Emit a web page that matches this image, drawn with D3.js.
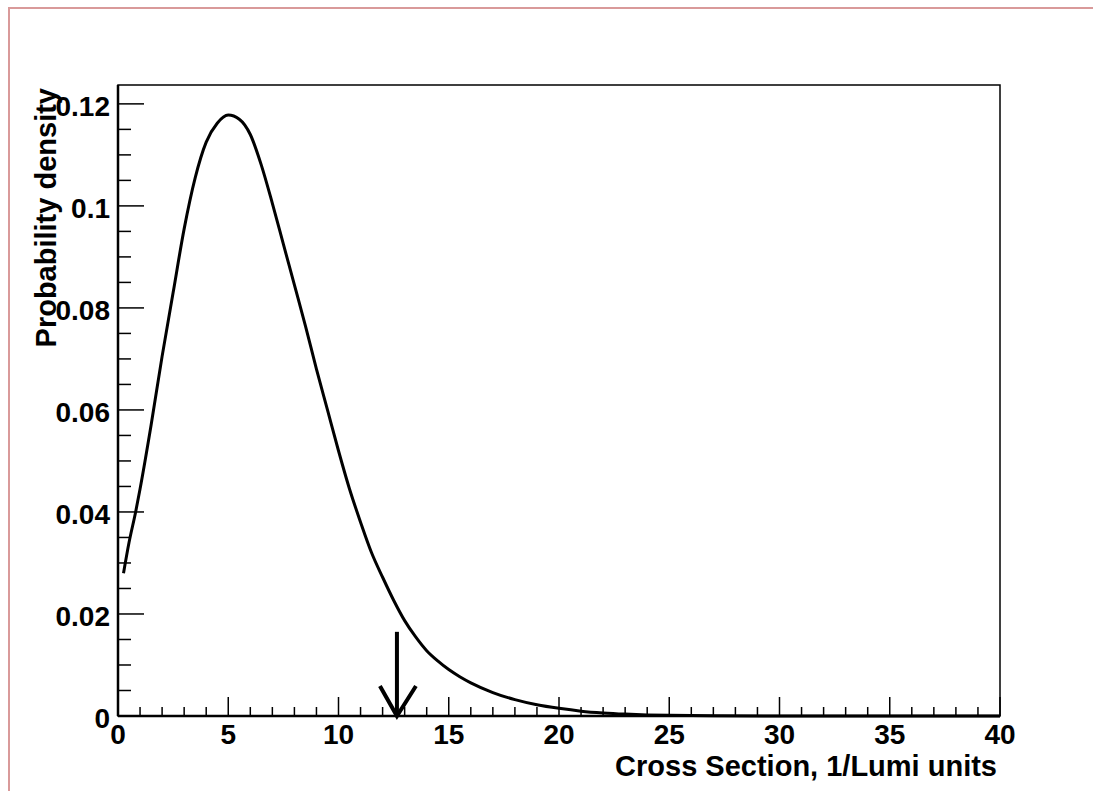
<!DOCTYPE html>
<html><head><meta charset="utf-8">
<script src="https://cdn.jsdelivr.net/npm/d3@7"></script>
<style>body{margin:0;background:#fff}svg{display:block}text{font-family:"Liberation Sans",Arial,sans-serif;font-weight:bold}</style>
</head><body>
<svg id="c" width="1093" height="791"></svg>
<script>
const xVals = [0.25,0.5,0.8,1.0,1.5,2.0,2.5,3.0,3.5,4.0,4.5,5.0,5.5,6.0,6.5,7.0,7.5,8.0,8.5,9.0,9.5,10.0,10.5,11.0,11.5,12.0,12.5,13.0,13.5,14.0,14.5,15.0,15.5,16.0,17.0,18.0,19.0,20.0,21.0,22.0,23.0,24.0,25.0,27.0,30.0,35.0,40.0];
const density = [0.028,0.034,0.040,0.0445,0.057,0.0705,0.083,0.0955,0.1055,0.1125,0.1162,0.1178,0.1170,0.1140,0.1080,0.1005,0.0925,0.0845,0.0765,0.0680,0.0600,0.0520,0.0445,0.0380,0.0320,0.0272,0.0227,0.0187,0.0155,0.0128,0.0108,0.0091,0.0077,0.0065,0.0046,0.0032,0.0022,0.0015,0.00095,0.0006,0.00037,0.00022,0.00013,0.00004,0.00001,0,0];
const xTicks = [0,5,10,15,20,25,30,35,40];
const yTicks = [0,0.02,0.04,0.06,0.08,0.1,0.12];
const yTickLabels = ["0","0.02","0.04","0.06","0.08","0.1","0.12"];
const xTitle = "Cross Section, 1/Lumi units";
const yTitle = "Probability density";
const limitX = 12.65, limitTop = 0.0165;

const svg = d3.select("#c");
const L=118,R=1000,T=85,B=716;
const x = d3.scaleLinear().domain([0,40]).range([L,R]);
const y = d3.scaleLinear().domain([0,0.1237]).range([B,T]);

// canvas border
svg.append("path").attr("d","M9,791V8H1093").attr("fill","none").attr("stroke","#d99a9a").attr("stroke-width",2);

// frame
svg.append("rect").attr("x",L).attr("y",T).attr("width",R-L).attr("height",B-T).attr("fill","none").attr("stroke","#000").attr("stroke-width",1.5);

// x axis ticks
const xMinor = d3.range(0,41,1);
svg.append("g").selectAll("line").data(xMinor).join("line")
  .attr("x1",d=>x(d)).attr("x2",d=>x(d)).attr("y1",B).attr("y2",d=>d%5===0?B-19:B-9)
  .attr("stroke","#000").attr("stroke-width",1.5);
svg.append("line").attr("x1",L).attr("x2",R).attr("y1",B).attr("y2",B).attr("stroke","#000").attr("stroke-width",2.5);
svg.append("g").selectAll("text").data(xTicks).join("text")
  .attr("x",d=>x(d)).attr("y",B+28).attr("text-anchor","middle").attr("font-size",28).text(d=>d);

// y axis ticks
const yMinor = d3.range(0,25).map(i=>i*0.005);
svg.append("g").selectAll("line").data(yMinor).join("line")
  .attr("x1",L).attr("x2",(d,i)=>i%4===0?L+26:L+13).attr("y1",d=>y(d)).attr("y2",d=>y(d))
  .attr("stroke","#000").attr("stroke-width",1.5);
svg.append("line").attr("x1",L).attr("x2",L).attr("y1",T).attr("y2",B).attr("stroke","#000").attr("stroke-width",2.5);
svg.append("g").selectAll("text").data(yTicks).join("text")
  .attr("x",110).attr("y",d=>y(d)+12).attr("text-anchor","end").attr("font-size",28).text((d,i)=>yTickLabels[i]);

// titles
svg.append("text").attr("x",997).attr("y",776).attr("text-anchor","end").attr("font-size",29).text(xTitle);
svg.append("text").attr("transform","translate(56,88) rotate(-90)").attr("text-anchor","end").attr("font-size",29).text(yTitle);

// curve
const pts = xVals.map((v,i)=>[v,density[i]]);
svg.append("path").datum(pts).attr("fill","none").attr("stroke","#000").attr("stroke-width",3)
  .attr("d",d3.line().x(d=>x(d[0])).y(d=>y(d[1])).curve(d3.curveMonotoneX));

// limit arrow
const ax = x(limitX);
svg.append("line").attr("x1",ax).attr("x2",ax).attr("y1",y(limitTop)).attr("y2",y(0)).attr("stroke","#000").attr("stroke-width",4);
svg.append("path").attr("d",`M${ax-17},${y(0)-30}L${ax},${y(0)}L${ax+19},${y(0)-30}`).attr("fill","none").attr("stroke","#000").attr("stroke-width",4);
</script>
</body></html>
